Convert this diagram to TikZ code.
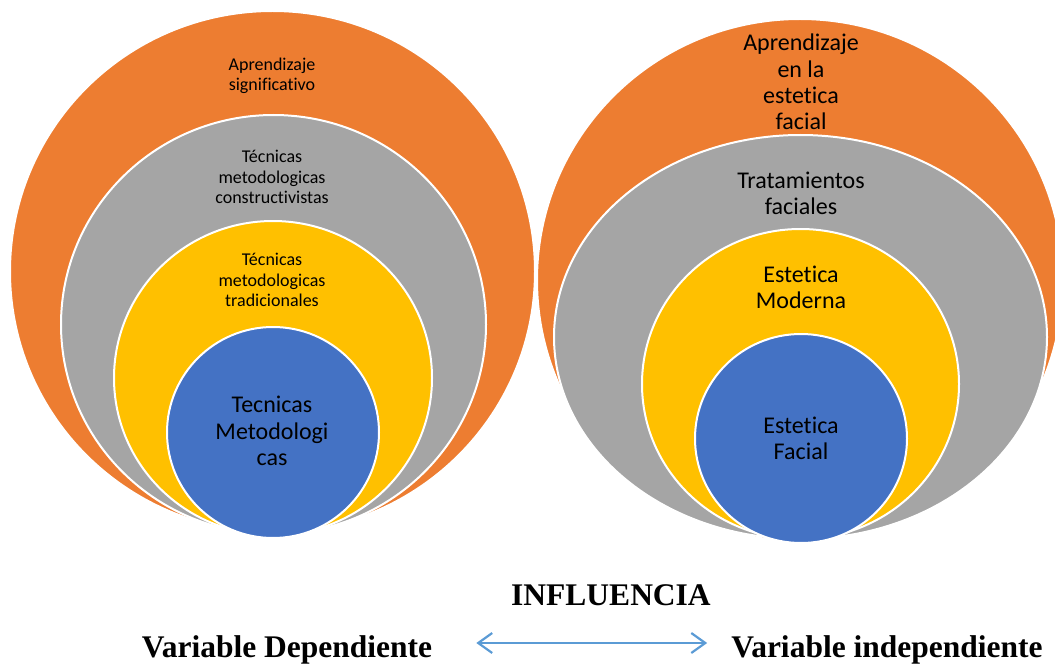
\documentclass[tikz,border=0pt]{standalone}
\usepackage{fontspec}
\setmainfont{Carlito}[Ligatures=NoCommon]
\newfontfamily\timesfont{Liberation Serif}
\usetikzlibrary{arrows.meta}
\definecolor{ringorange}{HTML}{ED7D31}
\definecolor{ringgray}{HTML}{A5A5A5}
\definecolor{ringyellow}{HTML}{FFC000}
\definecolor{ringblue}{HTML}{4472C4}
\definecolor{arrowblue}{HTML}{5B9BD5}
\begin{document}
\begin{tikzpicture}[x=1pt,y=-1pt,
    ring/.style={draw=white,line width=2pt},
    smalltxt/.style={align=center,font=\fontsize{18}{20.5}\selectfont},
    bigtxt/.style={align=center,font=\fontsize{24}{26.3}\selectfont},
    vartxt/.style={inner sep=0pt,font=\timesfont\bfseries\fontsize{31.5}{36}\selectfont}]
    \useasboundingbox (0,0) rectangle (1055,666);
    \clip (0,0) rectangle (1055,666);
    \filldraw[ring,fill=ringorange] (272.5,271.5) ellipse [x radius=262.5,y radius=260.5];
    \filldraw[ring,fill=ringgray] (273.5,324.5) ellipse [x radius=212.5,y radius=209.5];
    \filldraw[ring,fill=ringyellow] (273,378) ellipse [x radius=159,y radius=157];
    \filldraw[ring,fill=ringblue] (273,432.5) ellipse [x radius=106,y radius=105.5];
    \filldraw[ring,fill=ringorange] (800,280) ellipse [x radius=263,y radius=261];
    \filldraw[ring,fill=ringgray] (800.5,337) ellipse [x radius=246.5,y radius=202];
    \filldraw[ring,fill=ringyellow] (800.5,384) ellipse [x radius=158.5,y radius=155];
    \filldraw[ring,fill=ringblue] (801,438.5) ellipse [x radius=106,y radius=104.5];
    \node[smalltxt] (apsignif) at (272,76) {Aprendizaje\\significativo};
    \node[smalltxt] (tecconstr) at (272,177) {Técnicas\\metodologicas\\constructivistas};
    \node[smalltxt] (tectrad) at (272,280) {Técnicas\\metodologicas\\tradicionales};
    \node[bigtxt] (tecmetod) at (272,431) {Tecnicas\\Metodologi\\cas};
    \node[bigtxt] (apfacial) at (801,82) {Aprendizaje\\en la\\estetica\\facial};
    \node[bigtxt] (tratam) at (801,193.5) {Tratamientos\\faciales};
    \node[bigtxt] (estmod) at (801,287) {Estetica\\Moderna};
    \node[bigtxt] (estfacial) at (801,438.5) {Estetica\\Facial};
    \node[vartxt] (influencia) at (611,595) {INFLUENCIA};
    \node[vartxt] (vdep) at (287,650) {Variable Dependiente};
    \node[vartxt] (vindep) at (887,650) {Variable independiente};
    \draw[arrowblue,line width=2.2pt,{Straight Barb[length=14pt,width=20pt]}-{Straight Barb[length=14pt,width=20pt]},shorten <=44pt,shorten >=24pt] ([yshift=7pt]vdep.east) -- ([yshift=7pt]vindep.west);
\end{tikzpicture}
\end{document}
